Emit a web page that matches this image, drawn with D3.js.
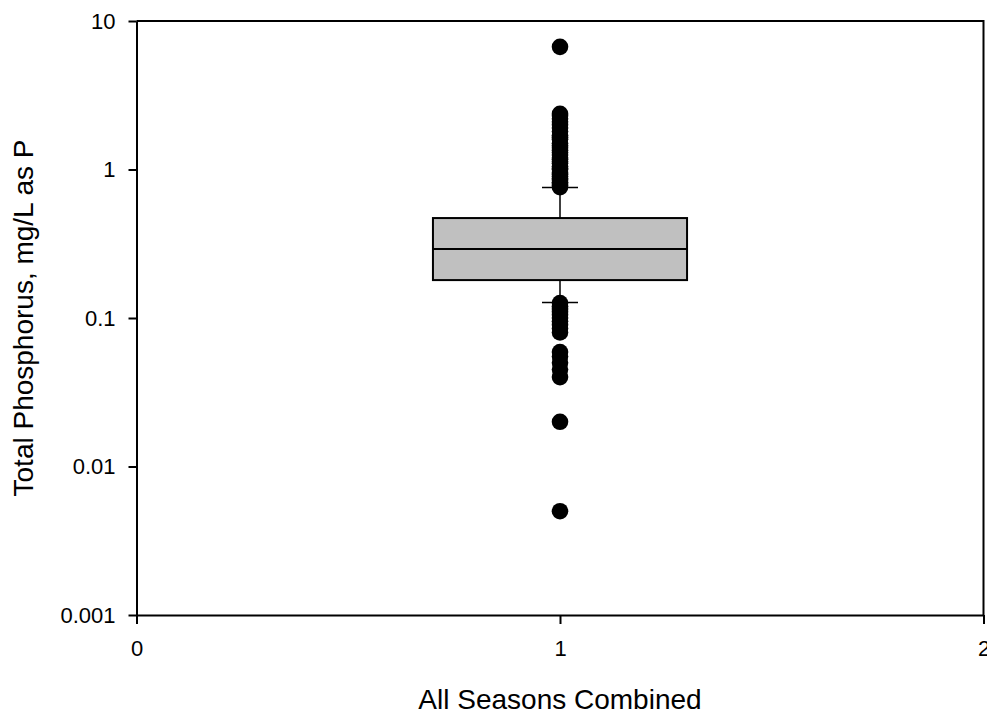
<!DOCTYPE html>
<html>
<head>
<meta charset="utf-8">
<script src="https://cdn.jsdelivr.net/npm/d3@7"></script>
<style>
  body { margin: 0; background: #fff; }
  text { font-family: "Liberation Sans", Arial, sans-serif; fill: #000; }
</style>
</head>
<body>
<div id="chart"></div>
<script>
// ---- data ----
const group = [1];
const boxStats = { q1: 0.18, median: 0.292, q3: 0.471, lo: 0.127, hi: 0.755 };
const outliersHigh = [0.76, 0.78, 0.8, 0.82, 0.85, 0.87, 0.9, 0.93, 0.95, 1.0, 1.02, 1.05,
    1.1, 1.13, 1.17, 1.2, 1.25, 1.3, 1.35, 1.4, 1.45, 1.5, 1.6, 1.65, 1.7, 1.8, 1.9,
    2.0, 2.1, 2.2, 2.3, 2.37, 6.7];
const outliersLow = [0.126, 0.12, 0.115, 0.11, 0.105, 0.1, 0.095, 0.09, 0.085, 0.08,
    0.059, 0.055, 0.05, 0.045, 0.04, 0.02, 0.005];
const yTicks = [0.001, 0.01, 0.1, 1, 10];
const yTickLabels = ["0.001", "0.01", "0.1", "1", "10"];
const xTicks = [0, 1, 2];

const W = 987, H = 717;
const margin = { left: 136.5, right: 3.5, top: 21, bottom: 102 };
const boxWidth = 0.6, capWidth = 0.085;

const svg = d3.select("#chart").append("svg")
    .attr("width", W)
    .attr("height", H);

const x = d3.scaleLinear().domain([0, 2]).range([margin.left, W - margin.right]);
const y = d3.scaleLog().domain([0.001, 10]).range([H - margin.bottom, margin.top]);

// frame (top + right)
svg.append("path")
    .attr("d", `M${x(0)},${y(10)}H${x(2)}V${y(0.001)}`)
    .attr("fill", "none")
    .attr("stroke", "#000")
    .attr("stroke-width", 2);

// whiskers
const cx = x(group[0]);
svg.append("line")
    .attr("x1", cx).attr("x2", cx)
    .attr("y1", y(boxStats.q3)).attr("y2", y(boxStats.hi))
    .attr("stroke", "#000").attr("stroke-width", 1.5);
svg.append("line")
    .attr("x1", cx).attr("x2", cx)
    .attr("y1", y(boxStats.q1)).attr("y2", y(boxStats.lo))
    .attr("stroke", "#000").attr("stroke-width", 1.5);

// outlier dots
const allOut = outliersHigh.concat(outliersLow);
svg.selectAll("circle.out")
    .data(allOut)
    .enter().append("circle")
    .attr("class", "out")
    .attr("cx", cx)
    .attr("cy", d => y(d))
    .attr("r", 8.3)
    .attr("fill", "#000");

// caps
[boxStats.hi, boxStats.lo].forEach(v => {
    svg.append("line")
        .attr("x1", x(group[0] - capWidth / 2)).attr("x2", x(group[0] + capWidth / 2))
        .attr("y1", y(v)).attr("y2", y(v))
        .attr("stroke", "#000").attr("stroke-width", 1.5);
});

// box
svg.append("rect")
    .attr("x", x(group[0] - boxWidth / 2))
    .attr("y", y(boxStats.q3))
    .attr("width", x(group[0] + boxWidth / 2) - x(group[0] - boxWidth / 2))
    .attr("height", y(boxStats.q1) - y(boxStats.q3))
    .attr("fill", "#c0c0c0")
    .attr("stroke", "#000")
    .attr("stroke-width", 2);
svg.append("line")
    .attr("x1", x(group[0] - boxWidth / 2)).attr("x2", x(group[0] + boxWidth / 2))
    .attr("y1", y(boxStats.median)).attr("y2", y(boxStats.median))
    .attr("stroke", "#000").attr("stroke-width", 2);

// axes
const yAxis = svg.append("g")
    .attr("transform", `translate(${x(0)},0)`)
    .call(d3.axisLeft(y).tickValues(yTicks)
        .tickFormat((d, i) => yTickLabels[i])
        .tickSize(8).tickSizeOuter(0).tickPadding(13));

const xAxis = svg.append("g")
    .attr("transform", `translate(0,${y(0.001)})`)
    .call(d3.axisBottom(x).tickValues(xTicks)
        .tickFormat(d3.format("d"))
        .tickSize(9).tickSizeOuter(0).tickPadding(16));

[yAxis, xAxis].forEach(g => {
    g.select(".domain").attr("stroke", "#000").attr("stroke-width", 2);
    g.selectAll(".tick line").attr("stroke", "#000").attr("stroke-width", 2);
    g.selectAll(".tick text")
        .attr("fill", "#000")
        .style("font-family", "'Liberation Sans', Arial, sans-serif")
        .style("font-size", "22px");
});

// axis titles
svg.append("text")
    .attr("x", x(1))
    .attr("y", 709)
    .attr("text-anchor", "middle")
    .style("font-size", "28px")
    .text("All Seasons Combined");

svg.append("text")
    .attr("transform", `translate(33,${(y(10) + y(0.001)) / 2}) rotate(-90)`)
    .attr("text-anchor", "middle")
    .style("font-size", "28px")
    .text("Total Phosphorus, mg/L as P");
</script>
</body>
</html>
